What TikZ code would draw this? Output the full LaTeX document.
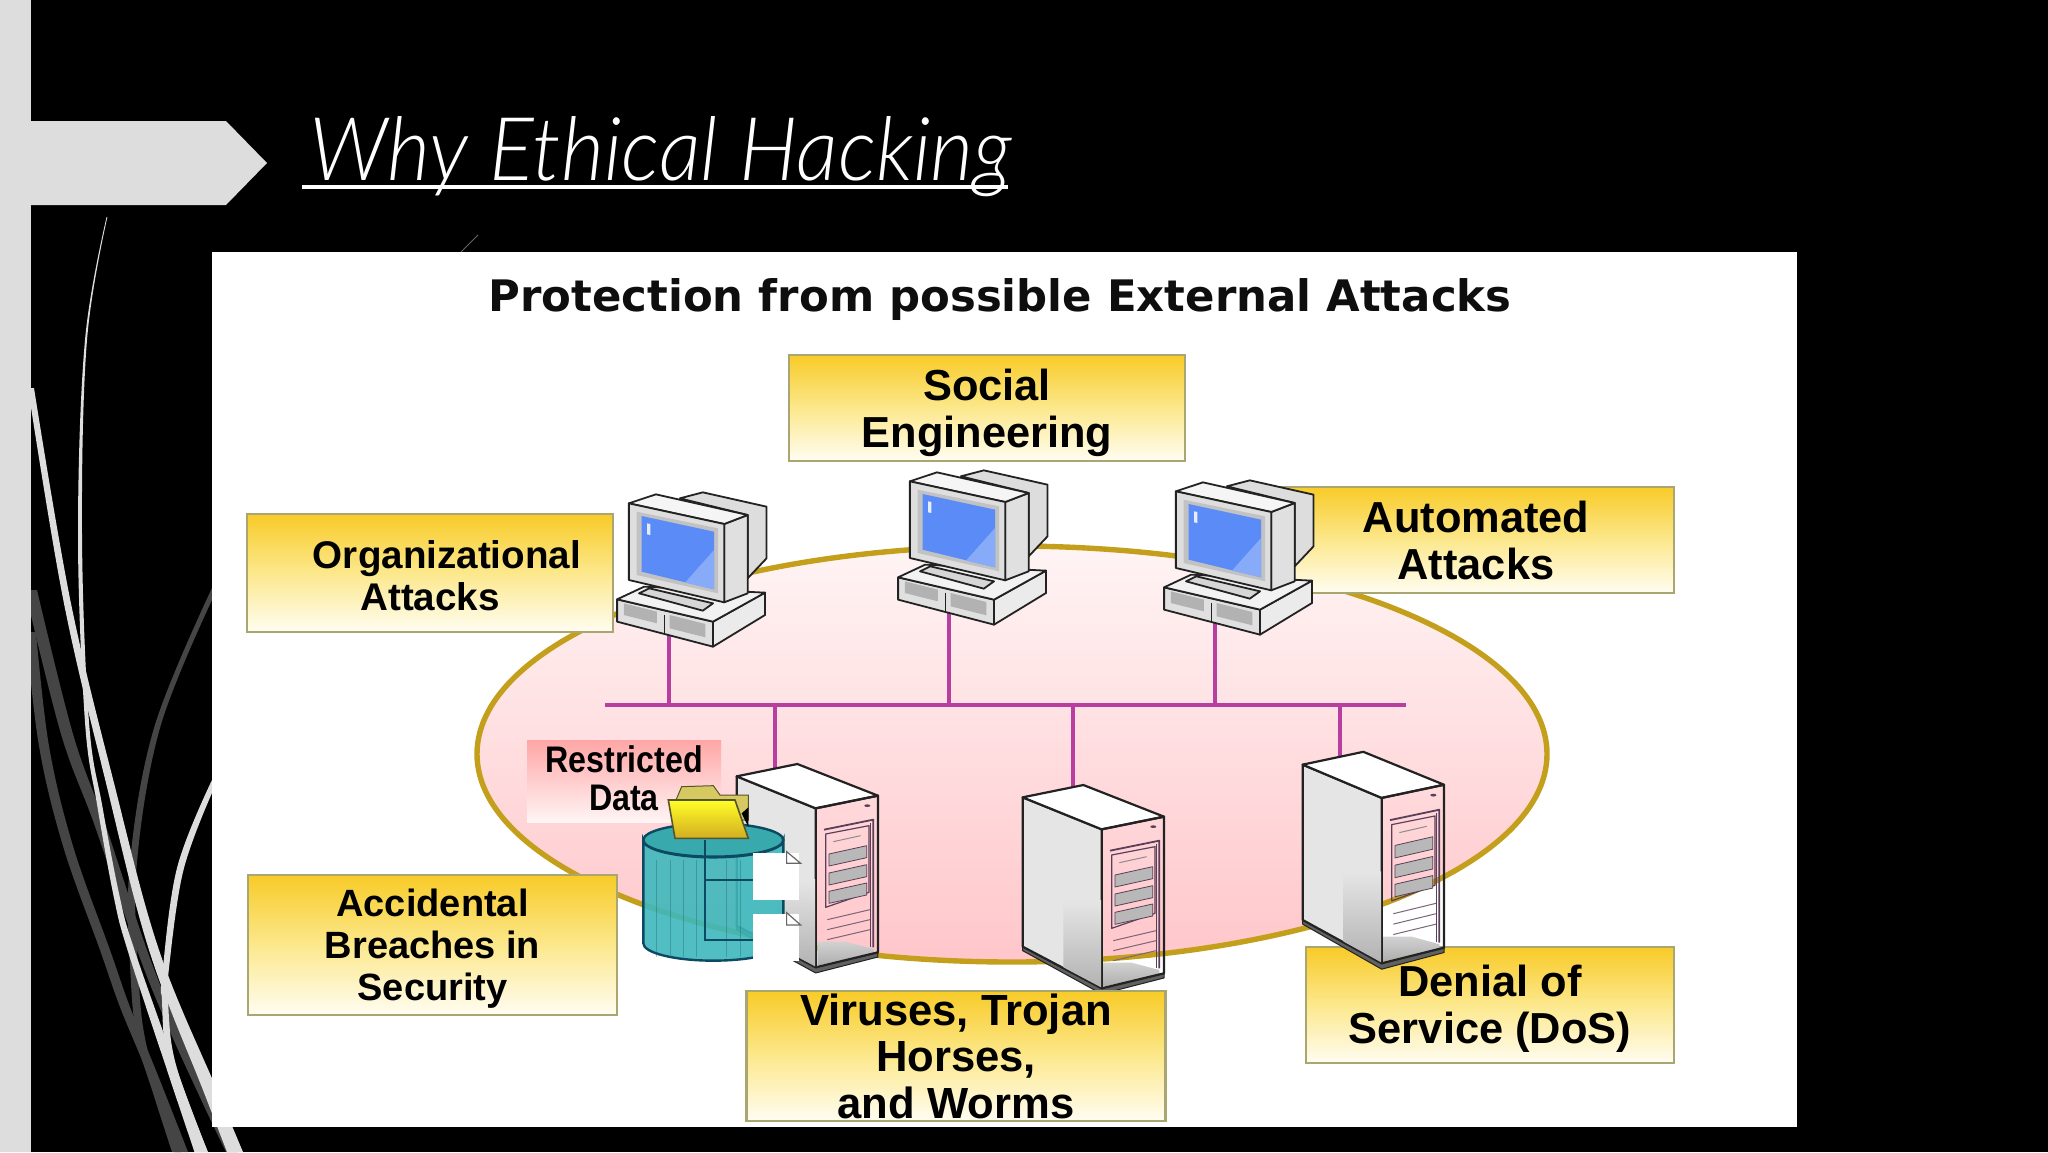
\documentclass[tikz,border=0pt]{standalone}
\usepackage{fontspec}
\setmainfont{Liberation Sans}
\newfontfamily\headfont{DejaVu Sans}
\IfFontExistsTF{Lato Light}{\newfontfamily\ttlfont{Lato Light}[ItalicFont={Lato Light Italic}]}{\newfontfamily\ttlfont{Carlito}}
\definecolor{barcol}{HTML}{DDDDDD}
\definecolor{ribdark}{HTML}{454545}
\definecolor{yeltop}{HTML}{F8CB28}
\definecolor{yelmid}{HTML}{FCE88C}
\definecolor{yelbot}{HTML}{FFFDF2}
\definecolor{boxline}{HTML}{A9A672}
\definecolor{ringcol}{HTML}{C49F1C}
\definecolor{buscol}{HTML}{B83FA0}
\definecolor{inkcol}{HTML}{222222}
\definecolor{scrcol}{HTML}{5A8BF6}
\definecolor{doorcol}{HTML}{5A3F58}
\definecolor{dbcol}{HTML}{3DB8BC}
\definecolor{dbline}{HTML}{0B4A62}
\definecolor{ringtop}{HTML}{FFF4F4}
\definecolor{ringbot}{HTML}{FFC6CA}
\newcommand\ribbon[3]{\fill[#1] plot[smooth,tension=0.6] coordinates {#2} -- plot[smooth,tension=0.6] coordinates {#3} -- cycle;}
\newcommand\lbl[2]{\fontsize{#1}{#2}\selectfont\bfseries}
\newcommand\pcunit[2]{%
\begin{scope}[shift={(#1,#2)},xscale=0.51,yscale=0.3333,draw=inkcol,line width=0.9pt,line join=round]
\filldraw[fill=barcol] (235,175)--(280,157)--(405,200)--(405,355)--(368,415)--(368,225)--cycle;
\filldraw[fill=black!8] (300,545)--(402,458)--(402,525)--(300,620)--cycle;
\filldraw[fill=black!12] (112,478)--(300,545)--(300,620)--(112,545)--cycle;
\filldraw[fill=black!5] (112,478)--(165,440)--(402,458)--(300,545)--cycle;
\fill[black!30] (125,490)--(190,515)--(190,550)--(125,525)--cycle;
\fill[black!30] (215,525)--(285,552)--(285,592)--(215,565)--cycle;
\draw (205,525)--(205,578);
\filldraw[fill=black!16] (155,460)--(175,445)--(300,490)--(280,512)--cycle;
\filldraw[fill=black!12] (322,252)--(368,225)--(368,460)--(322,487)--cycle;
\filldraw[fill=black!4] (135,190)--(188,163)--(368,225)--(322,252)--cycle;
\filldraw[fill=black!13] (135,190)--(322,252)--(322,487)--(135,420)--cycle;
\fill[black!24] (150,215)--(310,265)--(310,460)--(150,405)--cycle;
\fill[scrcol] (160,228)--(302,275)--(302,448)--(160,395)--cycle;
\fill[scrcol!72!white] (302,330)--(302,448)--(245,428)--cycle;
\fill[white!85!scrcol] (171,250)--(177,252)--(177,285)--(171,283)--cycle;
\end{scope}}
\newcommand\srvunit[3]{%
\begin{scope}[shift={(#1,#2)},xscale=0.3333,yscale=#3,draw=inkcol,line width=1.1pt,line join=round]
\filldraw[fill=black!62,line width=0.5pt] (68,620)--(305,745)--(492,700)--(492,714)--(305,762)--(68,632)--cycle;
\filldraw[fill=black!10] (68,172)--(305,268)--(305,745)--(68,620)--cycle;
\shade[top color=black!10,bottom color=black!30] (190,480)--(303,480)--(303,742)--(190,682)--cycle;
\filldraw[fill=white] (68,172)--(250,135)--(492,230)--(305,268)--cycle;
\shade[top color=black!18,bottom color=black!32] (310,668)--(395,668)--(478,690)--(478,702)--(310,740)--cycle;
\draw (305,268)--(492,230)--(492,700)--(305,745);
\fill[doorcol] (460,260) ellipse[x radius=9,y radius=4];
\draw[doorcol,line width=0.9pt] (330,332)--(478,302)--(478,685);
\draw[doorcol,line width=0.5pt] (470,312)--(470,683);
\draw[doorcol,line width=0.6pt] (335,345)--(465,320)--(465,520)--(335,565)--cycle;
\draw[black!45,line width=0.5pt] (358,368)--(440,350);
\foreach \ya/\yb in {405/380,462/437,517/492}{
\filldraw[fill=black!28,draw=doorcol,line width=0.4pt] (345,\ya)--(458,\yb)--(458,\yb+36)--(345,\ya+36)--cycle;}
\foreach \ya/\yb in {602/572,632/602,662/632}{
\draw[doorcol!80,line width=0.5pt] (340,\ya)--(468,\yb);}
\end{scope}}
\tikzset{
 ybox/.style={draw=boxline,line width=1.2pt,top color=yeltop,bottom color=yelbot,middle color=yelmid,shading angle=0,align=center,inner sep=0pt,text=black},
 link/.style={draw=buscol,line width=2.4pt},
}
\begin{document}
\begin{tikzpicture}[x=0.5pt,y=-0.5pt]
\useasboundingbox (0,0) rectangle (2048,1152);
\fill[black] (0,0) rectangle (2048,1152);
\fill[barcol] (0,0) rectangle (31,1152);
\fill[barcol] (31,121)--(226,121)--(267,163)--(226,205)--(31,205)--cycle;
% ribbons
\begin{scope}
\clip (31,200) rectangle (2048,1152);
\ribbon{ribdark}{(25,590) (61,734) (94.5,825) (137,950) (168,1027) (204.5,1107) (226,1152)}{(238,1152) (215.5,1107) (178,1027) (147,950) (105.5,825) (73,734) (37,590)}
\ribbon{ribdark}{(26,632) (39,746) (63,846) (100,950) (120,1007) (147,1073) (175,1152)}{(188,1152) (157,1073) (130,1007) (110,950) (73,846) (49,746) (36,632)}
\ribbon{ribdark}{(212,588) (154,728) (129.5,868) (131,983) (138,1043) (153,1093) (172,1152)}{(181,1152) (162,1093) (146,1043) (139,983) (136.5,868) (160,728) (212,600)}
\ribbon{barcol}{(212,780) (177,868) (162,977) (162,1000) (165,1047) (177,1090) (200,1152)}{(208,1152) (184,1090) (172,1047) (168,1000) (168,977) (183,872) (212,793)}
\ribbon{barcol}{(106.6,217) (85,340) (78,534) (85,722) (97.5,807) (114,898) (127.5,950) (168,1073) (194.5,1152)}{(207.5,1152) (178,1073) (134.5,950) (120,898) (102.5,807) (89,722) (82,534) (87,340) (107.4,217)}
\ribbon{barcol}{(28,388) (63.5,601) (106,783) (149,950) (203,1090) (227,1152)}{(243,1152) (217,1090) (159,950) (114,783) (70.5,601) (34,388)}
\end{scope}
\draw[black!60,line width=0.4pt] (478,235)--(461,252);
% title
\node[anchor=base west,inner sep=0pt,text=white] (title) at (309,180) {\scalebox{0.948}[1]{\ttlfont\itshape\fontsize{44pt}{48pt}\selectfont Why Ethical Hacking}};
\fill[white] (302,185) rectangle (1008,189);
% panel
\fill[white] (212,252) rectangle (1797,1127);
\node[inner sep=0pt,text=inkcol!40!black] (head) at (1000,300) {\headfont\bfseries\fontsize{21.7pt}{23pt}\selectfont Protection from possible External Attacks};
% ring
\path[draw=ringcol,line width=2.7pt,top color=ringtop,bottom color=ringbot] (1012,754) ellipse[x radius=535,y radius=208];
% boxes behind devices
\node[ybox,minimum width=198pt,minimum height=53pt,font=\lbl{21.7pt}{23.5pt}] (social) at (987,408) {\rule{0pt}{21pt}Social\\Engineering};
\node[ybox,minimum width=198pt,minimum height=53pt,font=\lbl{21.7pt}{23.5pt}] (auto) at (1476,540) {Automated\\Attacks};
\node[ybox,minimum width=183pt,minimum height=59pt,font=\lbl{19.3pt}{21pt}] (org) at (430,573) {\rule{0pt}{16.6pt}\hspace*{17pt}Organizational\\Attacks};
\node[ybox,minimum width=184.5pt,minimum height=70pt,font=\lbl{19pt}{21pt}] (acc) at (432.5,945) {\rule{0pt}{17.2pt}Accidental\\Breaches in\\Security};
\node[ybox,minimum width=184pt,minimum height=58pt,font=\lbl{21.7pt}{23.5pt}] (dos) at (1490,1005) {\rule{0pt}{19.7pt}Denial of\\Service (DoS)};
% bus and drops
\coordinate (busL) at (605,705);
\coordinate (busR) at (1406,705);
\coordinate (tap1) at (669,705);
\coordinate (tap2) at (949,705);
\coordinate (tap3) at (1215,705);
\coordinate (tap4) at (775,705);
\coordinate (tap5) at (1073,705);
\coordinate (tap6) at (1340,705);
\coordinate (pc1) at (669,625);
\coordinate (pc2) at (949,605);
\coordinate (pc3) at (1215,615);
\coordinate (srv1) at (775,780);
\coordinate (srv2) at (1073,795);
\coordinate (srv3) at (1340,760);
\draw[link] (busL)--(busR);
\draw[link] (tap1)--(pc1);
\draw[link] (tap2)--(pc2);
\draw[link] (tap3)--(pc3);
\draw[link] (tap4)--(srv1);
\draw[link] (tap5)--(srv2);
\draw[link] (tap6)--(srv3);
\pcunit{560}{440}
\pcunit{841}{418}
\pcunit{1107}{428}
\node[inner sep=0pt,minimum width=97pt,minimum height=41pt,top color=red!35!white,bottom color=red!4!white,align=center,font=\lbl{18.5pt}{19pt}] (rdata) at (624,781) {\scalebox{0.87}[1]{Restricted}\\\scalebox{0.87}[1]{Data}\rule[-2.6pt]{0pt}{0pt}};
\srvunit{714}{719}{0.3333}
\srvunit{1000}{740}{0.3333}
\srvunit{1280}{705}{0.3467}
% database
\begin{scope}[shift={(500,720)},scale=0.3333]
\filldraw[fill=dbcol,draw=dbline,line width=1.2pt,fill opacity=0.9] (430,360)--(430,670) arc[start angle=180,end angle=0,x radius=210,y radius=52]--(850,360) arc[start angle=0,end angle=180,x radius=210,y radius=52]--cycle;
\foreach \xx in {470,510,550,590,680,720}{\draw[black!50!dbcol,line width=0.2pt,opacity=0.35] (\xx,420)--(\xx,710);}
\filldraw[fill=dbcol!92!black,draw=dbline,line width=1.2pt] (640,360) ellipse[x radius=210,y radius=50];
\draw[dbline,line width=1.3pt] (615,360)--(615,660)--(760,660);
\draw[dbline,line width=1.3pt] (615,480)--(760,480);
\fill[white] (760,400) rectangle (898,540);
\fill[white] (760,582) rectangle (898,724);
\filldraw[fill=white,draw=black!60,line width=0.6pt] (860,395)--(902,430)--(860,430)--cycle;
\filldraw[fill=white,draw=black!60,line width=0.6pt] (860,578)--(902,615)--(860,615)--cycle;
\filldraw[fill=yelmid!70!olive,draw=black!50!olive,line width=0.5pt] (528,240)--(545,200)--(640,197)--(660,225)--(745,225)--(745,300)--(700,300)--cycle;
\fill[black] (725,280)--(745,262)--(745,320)--cycle;
\path[draw=black!50!olive,line width=0.8pt,top color=yellow!85!white,bottom color=yeltop!85!black] (505,240)--(705,240)--(745,355)--(525,355)--cycle;
\end{scope}
\node[ybox,minimum width=209.5pt,minimum height=65pt,font=\lbl{21.8pt}{23.3pt}] (vir) at (956,1056) {Viruses, Trojan\\Horses,\\and Worms};
\end{tikzpicture}
\end{document}
